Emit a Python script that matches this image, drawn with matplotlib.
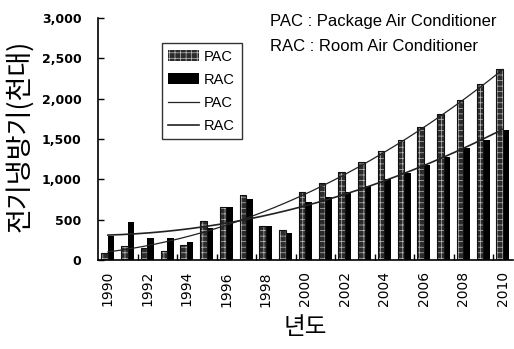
import numpy as np
import matplotlib
matplotlib.use("Agg")
import matplotlib.pyplot as plt

plt.rcParams['font.family'] = ['Liberation Sans', 'DejaVu Sans']
plt.rcParams['hatch.linewidth'] = 0.5

# values (thousand units)
years = list(range(1990, 2011))
pac = [90, 170, 152, 112, 186, 480, 660, 805, 421, 372, 846,
       958, 1086, 1214, 1347, 1490, 1652, 1809, 1983, 2181, 2367]
rac = [300, 470, 269, 272, 227, 393, 655, 756, 421, 330, 723,
       785, 846, 917, 1004, 1082, 1177, 1280, 1384, 1487, 1611]
tick_years = years[::2]

x = np.arange(len(years))
w = 0.33

fig = plt.figure(figsize=(5.14, 3.49), dpi=100)
ax = fig.add_axes([0.1907, 0.255, 0.807, 0.693])

# PAC bars: dark fill with light dotted grid
b1 = ax.bar(x - w / 2, pac, w, facecolor='#2c2c2c', edgecolor='#bdbdbd',
            hatch='+++', linewidth=0, label='PAC', zorder=2)
ax.bar(x - w / 2, pac, w, fill=False, edgecolor='#111111', linewidth=0.8, zorder=3)
b2 = ax.bar(x + w / 2, rac, w, color='black', linewidth=0, label='RAC', zorder=2)

# quadratic trend lines fitted to the bars
xs = np.linspace(0, len(years) - 1, 200)
p_pac = np.polyfit(x, pac, 2)
p_rac = np.polyfit(x, rac, 2)
l1, = ax.plot(xs, np.polyval(p_pac, xs), color='#222222', lw=0.9, label='PAC', zorder=4)
l2, = ax.plot(xs, np.polyval(p_rac, xs), color='#222222', lw=1.2, label='RAC', zorder=4)

ax.set_xlim(-0.5, len(years) - 0.5)
ax.set_ylim(0, 3000)
ax.set_yticks(range(0, 3001, 500))
ax.set_yticklabels([f"{v:,}" for v in range(0, 3001, 500)],
                   fontfamily='DejaVu Sans', fontweight='bold', fontsize=9)
ax.tick_params(axis='y', direction='in', length=4, width=1, pad=12)

ax.set_xticks(x[::2])
ax.set_xticklabels([str(y) for y in tick_years], rotation=90,
                   fontfamily='DejaVu Sans', fontsize=10)
ax.tick_params(axis='x', length=0, pad=8)
ax.set_xticks(np.arange(1.5, len(years) - 1, 2), minor=True)
ax.tick_params(axis='x', which='minor', direction='in', length=4, width=1)

for s in ['top', 'right']:
    ax.spines[s].set_visible(False)
for s in ['left', 'bottom']:
    ax.spines[s].set_linewidth(1.2)

fig.text(0.037, 0.61, '전기냉방기(천대)', rotation=90, ha='center', va='center',
         fontfamily=['Noto Sans CJK KR', 'DejaVu Sans'], fontsize=19.5)
ax.set_xlabel('년도', fontfamily=['Noto Sans CJK KR', 'DejaVu Sans'],
              fontsize=17, labelpad=7)

leg = ax.legend(handles=[b1, b2, l1, l2], loc='upper left',
                bbox_to_anchor=(0.154, 0.897), borderaxespad=0, fontsize=10.5,
                frameon=True, fancybox=False, edgecolor='black', handlelength=2.1,
                handletextpad=0.35, labelspacing=0.62, borderpad=0.45)
leg.get_frame().set_linewidth(1.0)

fig.text(0.525, 0.925, 'PAC : Package Air Conditioner', fontsize=12)
fig.text(0.525, 0.853, 'RAC : Room Air Conditioner', fontsize=12)

fig.savefig('out.png', dpi=100)
